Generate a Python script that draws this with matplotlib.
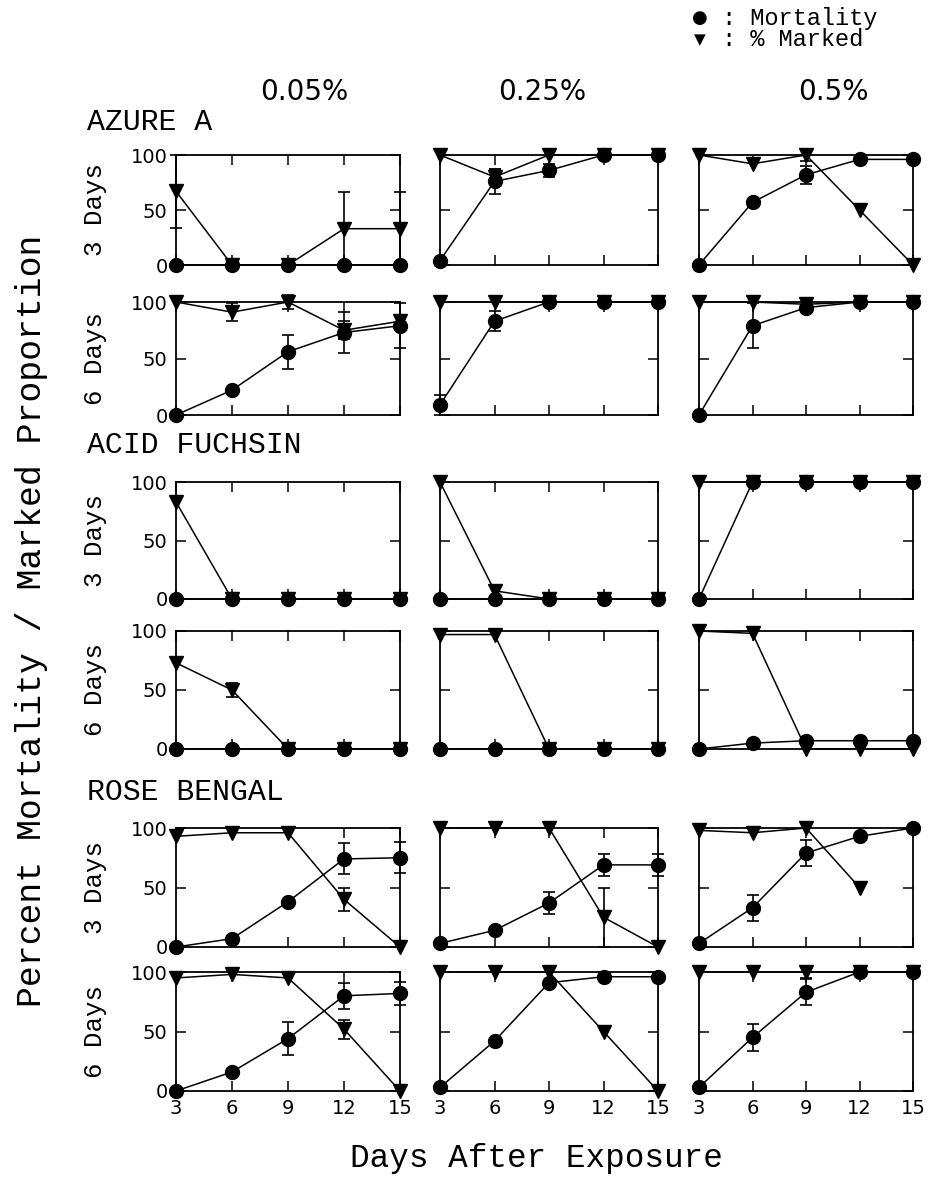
import numpy as np
import matplotlib
matplotlib.use('Agg')
import matplotlib.pyplot as plt

# data
days = [3, 6, 9, 12, 15]
concentrations = ['0.05%', '0.25%', '0.5%']
dyes = ['AZURE A', 'ACID FUCHSIN', 'ROSE BENGAL']
durations = ['3 Days', '6 Days']

# one list per concentration (0.05%, 0.25%, 0.5%)
azure_3d_mort = [[0, 0, 0, 0, 0], [4, 76, 86, 100, 100], [0, 57, 82, 96, 96]]
azure_3d_mort_err = [[0, 0, 0, 0, 0], [0, 11, 6, 0, 0], [0, 0, 8, 0, 0]]
azure_3d_mark = [[67, 0, 0, 33, 33], [100, 80, 100, 100, 100], [100, 92, 100, 50, 0]]
azure_3d_mark_err = [[33, 0, 0, 33, 33], [0, 7, 0, 0, 0], [0, 0, 5, 0, 0]]

azure_6d_mort = [[0, 22, 56, 73, 79], [9, 83, 100, 100, 100], [0, 79, 95, 100, 100]]
azure_6d_mort_err = [[0, 0, 15, 18, 20], [9, 9, 0, 0, 0], [0, 20, 0, 0, 0]]
azure_6d_mark = [[100, 91, 100, 75, 83], [100, 100, 100, 100, 100], [100, 100, 98, 100, 100]]
azure_6d_mark_err = [[0, 8, 6, 8, 0], [0, 0, 0, 0, 0], [0, 0, 0, 0, 0]]

acid_3d_mort = [[0, 0, 0, 0, 0], [0, 0, 0, 0, 0], [0, 100, 100, 100, 100]]
acid_3d_mort_err = [[0, 0, 0, 0, 0], [0, 0, 0, 0, 0], [0, 0, 0, 0, 0]]
acid_3d_mark = [[83, 0, 0, 0, 0], [100, 7, 0, 0, 0], [100, 100, 100, 100, 100]]
acid_3d_mark_err = [[0, 0, 0, 0, 0], [0, 5, 0, 0, 0], [0, 0, 0, 0, 0]]

acid_6d_mort = [[0, 0, 0, 0, 0], [0, 0, 0, 0, 0], [0, 5, 7, 7, 7]]
acid_6d_mort_err = [[0, 0, 0, 0, 0], [0, 0, 0, 0, 0], [0, 0, 0, 0, 0]]
acid_6d_mark = [[73, 50, 0, 0, 0], [97, 97, 0, 0, 0], [100, 98, 0, 0, 0]]
acid_6d_mark_err = [[0, 6, 0, 0, 0], [0, 0, 0, 0, 0], [0, 0, 0, 0, 0]]

rose_3d_mort = [[0, 7, 38, 74, 75], [3, 14, 37, 69, 69], [3, 33, 79, 93, 100]]
rose_3d_mort_err = [[0, 0, 0, 13, 13], [0, 0, 9, 9, 9], [0, 11, 11, 0, 0]]
rose_3d_mark = [[93, 96, 96, 40, 0], [100, 100, 100, 25, 0], [98, 96, 100, 50, np.nan]]
rose_3d_mark_err = [[0, 0, 0, 10, 0], [0, 0, 0, 25, 0], [0, 0, 0, 0, 0]]

rose_6d_mort = [[0, 16, 44, 80, 82], [3, 42, 91, 96, 96], [3, 45, 83, 100, 100]]
rose_6d_mort_err = [[0, 0, 14, 11, 10], [0, 0, 0, 0, 0], [0, 11, 11, 0, 0]]
rose_6d_mark = [[95, 98, 95, 52, 0], [100, 100, 100, 50, 0], [100, 100, 100, 100, 100]]
rose_6d_mark_err = [[0, 0, 0, 8, 0], [0, 0, 0, 0, 0], [0, 0, 5, 0, 0]]

rows = [
    (azure_3d_mort, azure_3d_mort_err, azure_3d_mark, azure_3d_mark_err),
    (azure_6d_mort, azure_6d_mort_err, azure_6d_mark, azure_6d_mark_err),
    (acid_3d_mort, acid_3d_mort_err, acid_3d_mark, acid_3d_mark_err),
    (acid_6d_mort, acid_6d_mort_err, acid_6d_mark, acid_6d_mark_err),
    (rose_3d_mort, rose_3d_mort_err, rose_3d_mark, rose_3d_mark_err),
    (rose_6d_mort, rose_6d_mort_err, rose_6d_mark, rose_6d_mark_err),
]

W, H = 931, 1178
fig = plt.figure(figsize=(W / 100, H / 100), dpi=100)

mono = 'Liberation Mono'
sans = 'DejaVu Sans'

# panel boxes in pixels
col_px = [(176, 400), (440, 658), (699, 913)]
row_px = [(155, 265), (302, 415), (482, 599), (631, 749), (828, 947), (972, 1091)]

for r, (mort, mort_err, mark, mark_err) in enumerate(rows):
    y0, y1 = row_px[r]
    for c in range(3):
        x0, x1 = col_px[c]
        ax = fig.add_axes([x0 / W, 1 - y1 / H, (x1 - x0) / W, (y1 - y0) / H])
        # % marked (triangles), drawn below mortality
        me = np.array(mark_err[c], dtype=float)
        ax.errorbar(days, mark[c], yerr=np.where(me > 0, me, np.nan), fmt='none',
                    ecolor='black', elinewidth=1.2, capsize=4, capthick=1.2,
                    clip_on=False, zorder=2)
        ax.plot(days, mark[c], color='black', lw=1.1, marker='v', ms=10,
                clip_on=False, zorder=3)
        oe = np.array(mort_err[c], dtype=float)
        ax.errorbar(days, mort[c], yerr=np.where(oe > 0, oe, np.nan), fmt='none',
                    ecolor='black', elinewidth=1.2, capsize=4, capthick=1.2,
                    clip_on=False, zorder=4)
        ax.plot(days, mort[c], color='black', lw=1.1, marker='o', ms=10,
                clip_on=False, zorder=5)

        ax.set_xlim(3, 15)
        ax.set_ylim(0, 100)
        ax.set_xticks(days)
        ax.set_yticks([0, 50, 100])
        ax.tick_params(direction='in', top=True, right=True, length=7, width=1.1,
                       labelsize=14, pad=6,
                       labelleft=(c == 0), labelbottom=(r == 5))
        for lab in ax.get_xticklabels() + ax.get_yticklabels():
            lab.set_family(sans)
        for s in ax.spines.values():
            s.set_linewidth(1.3)

        if c == 0:
            fig.text(95 / W, 1 - (y0 + y1) / 2 / H, durations[r % 2], rotation=90,
                     ha='center', va='center', family=mono, size=18.5)

# concentration headers
header_x = [304, 542, 833]
for cx, lab in zip(header_x, concentrations):
    fig.text(cx / W, 1 - 92 / H, lab, ha='center', va='center', family=sans, size=20)

# dye labels
dye_y = [122, 445, 792]
for dy, lab in zip(dye_y, dyes):
    fig.text(87 / W, 1 - dy / H, lab, ha='left', va='center', family=mono, size=21.5)

# axis titles
fig.text(32 / W, 1 - 621 / H, 'Percent Mortality / Marked Proportion', rotation=90,
         ha='center', va='center', family=mono, size=25)
fig.text(536 / W, 1 - 1158 / H, 'Days After Exposure', ha='center', va='center',
         family=mono, size=23.5)

# legend
fig.text(700 / W, 1 - 18 / H, '\u25cf', ha='center', va='center', family=sans, size=13)
fig.text(700 / W, 1 - 40 / H, '\u25bc', ha='center', va='center', family=sans, size=11)
fig.text(722 / W, 1 - 18 / H, ': Mortality', ha='left', va='center', family=mono, size=17)
fig.text(722 / W, 1 - 40 / H, ': % Marked', ha='left', va='center', family=mono, size=17)

fig.savefig('out.png', dpi=100)
